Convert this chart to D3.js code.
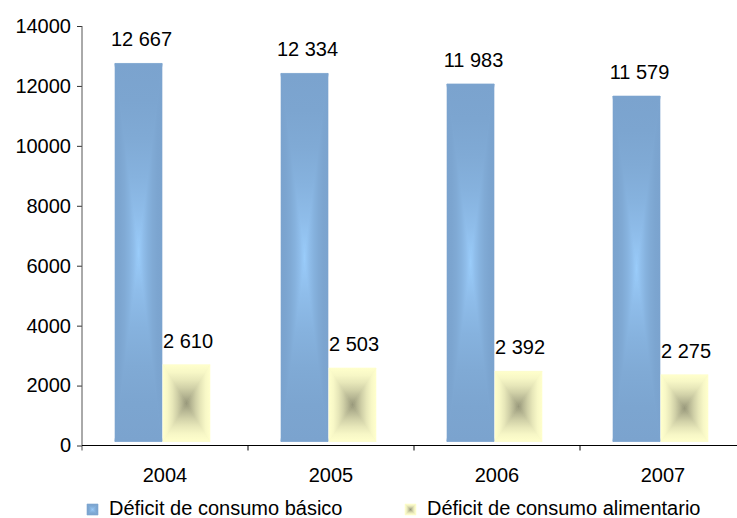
<!DOCTYPE html>
<html>
<head>
<meta charset="utf-8">
<script src="https://cdn.jsdelivr.net/npm/d3@7"></script>
<style>
  html, body { margin: 0; padding: 0; background: #fff; }
  svg { display: block; font-family: "Liberation Sans", Arial, sans-serif; }
</style>
</head>
<body>
<svg id="chart" width="737" height="518"></svg>
<script>
// Poverty deficit by year (two series)
const years = ["2004", "2005", "2006", "2007"];
const basico = [12667, 12334, 11983, 11579];
const alimentario = [2610, 2503, 2392, 2275];
const seriesNames = ["Déficit de consumo básico", "Déficit de consumo alimentario"];
const yTicks = [0, 2000, 4000, 6000, 8000, 10000, 12000, 14000];

// Box ("from centre") gradient colours: [edge, centre] and easing exponent
const seriesColors = [
  ["#7ba3ce", "#9accfa"],
  ["#ffffcc", "#97977a"]
];
const seriesEase = [2, 1.6];

const svg = d3.select("#chart");
const defs = svg.append("defs");

const plotLeft = 82, plotRight = 746, plotTop = 26, plotBottom = 445.5;
const fontSize = 20;

const x = d3.scaleBand().domain(years).range([plotLeft, plotRight]).paddingInner(0).paddingOuter(0);
const inner = d3.scaleBand().domain([0, 1]).range([33, 128]).paddingInner(0.02);
const y = d3.scaleLinear().domain([0, 14000]).range([plotBottom, plotTop]);

const fmt = d3.formatLocale({ thousands: " ", grouping: [3], decimal: ",", currency: ["", ""] }).format(",d");

// Gradient stop offsets (edge -> centre)
const profile = [0, 0.2, 0.4, 0.6, 0.8, 1];

let gid = 0;
function linGrad(x1, y1, x2, y2, cols, ease) {
  const id = "g" + (gid++);
  const g = defs.append("linearGradient").attr("id", id)
    .attr("gradientUnits", "userSpaceOnUse")
    .attr("x1", x1).attr("y1", y1).attr("x2", x2).attr("y2", y2);
  const interp = d3.interpolateRgb(cols[0], cols[1]);
  profile.forEach(t => {
    g.append("stop").attr("offset", t).attr("stop-color", interp(Math.pow(t, ease)));
  });
  return "url(#" + id + ")";
}

// Rectangle filled with a path gradient: four triangles meeting at the centre
function boxGradientRect(parent, x0, y0, w, h, cols, ease) {
  const x1 = x0 + w, y1 = y0 + h, cx = x0 + w / 2, cy = y0 + h / 2;
  const g = parent.append("g");
  g.append("rect").attr("x", x0).attr("y", y0).attr("width", w).attr("height", h)
    .attr("fill", d3.interpolateRgb(cols[0], cols[1])(0.15));
  const parts = [
    { pts: [[x0, y0], [x1, y0], [cx, cy]], grad: [cx, y0, cx, cy] },
    { pts: [[x0, y1], [x1, y1], [cx, cy]], grad: [cx, y1, cx, cy] },
    { pts: [[x0, y0], [x0, y1], [cx, cy]], grad: [x0, cy, cx, cy] },
    { pts: [[x1, y0], [x1, y1], [cx, cy]], grad: [x1, cy, cx, cy] }
  ];
  parts.forEach(p => {
    const f = linGrad(p.grad[0], p.grad[1], p.grad[2], p.grad[3], cols, ease);
    g.append("path")
      .attr("d", "M" + p.pts.map(q => q.join(",")).join("L") + "Z")
      .attr("fill", f).attr("stroke", f).attr("stroke-width", 0.6).attr("stroke-linejoin", "round");
  });
  return g;
}

// Bars (drawn slightly lifted off the baseline)
const liftTop = 2.5, liftBottom = 4;
const seriesData = [basico, alimentario];
const barsG = svg.append("g");
years.forEach((yr, i) => {
  seriesData.forEach((vals, s) => {
    const bx = x(yr) + inner(s);
    const bw = inner.bandwidth();
    const top = y(vals[i]) - liftTop;
    const bottom = y(0) - liftBottom;
    boxGradientRect(barsG, bx, top, bw, bottom - top, seriesColors[s], seriesEase[s]);
    barsG.append("text")
      .attr("x", bx + bw / 2 + (s === 0 ? 3 : 1.5))
      .attr("y", top - 17)
      .attr("text-anchor", "middle")
      .attr("font-size", fontSize)
      .attr("fill", "#000")
      .text(fmt(vals[i]));
  });
});

// Y axis
const yAxis = svg.append("g")
  .attr("transform", `translate(${plotLeft},0)`)
  .call(d3.axisLeft(y).tickValues(yTicks).tickSize(5).tickPadding(6).tickFormat(d3.format("d")));
yAxis.select(".domain").remove();
yAxis.selectAll(".tick line").attr("stroke", "#333");
yAxis.selectAll(".tick text").attr("font-size", fontSize).attr("fill", "#000")
  .attr("font-family", "Liberation Sans, Arial, sans-serif");
svg.append("line")
  .attr("x1", plotLeft).attr("x2", plotLeft)
  .attr("y1", plotTop).attr("y2", plotBottom + 5)
  .attr("stroke", "#555").attr("stroke-width", 1);

// X axis: baseline, boundary ticks, centred category labels
svg.append("line")
  .attr("x1", plotLeft).attr("x2", plotRight)
  .attr("y1", plotBottom).attr("y2", plotBottom)
  .attr("stroke", "#000").attr("stroke-width", 1.2);
const bounds = years.map(d => x(d)).concat([x(years[years.length - 1]) + x.bandwidth()]);
svg.append("g").selectAll("line").data(bounds.slice(1)).join("line")
  .attr("x1", d => d).attr("x2", d => d)
  .attr("y1", plotBottom).attr("y2", plotBottom + 5)
  .attr("stroke", "#000");
svg.append("g").selectAll("text").data(years).join("text")
  .attr("x", d => x(d) + x.bandwidth() / 2)
  .attr("y", plotBottom + 36)
  .attr("text-anchor", "middle")
  .attr("font-size", fontSize)
  .attr("fill", "#000")
  .text(d => d);

// Legend
const legendX = [87, 405];
const legend = svg.append("g");
seriesNames.forEach((name, s) => {
  boxGradientRect(legend, legendX[s], 504, 11, 11, seriesColors[s], seriesEase[s]);
  legend.append("text")
    .attr("x", legendX[s] + 22)
    .attr("y", 515)
    .attr("font-size", fontSize)
    .attr("fill", "#000")
    .text(name);
});
</script>
</body>
</html>
